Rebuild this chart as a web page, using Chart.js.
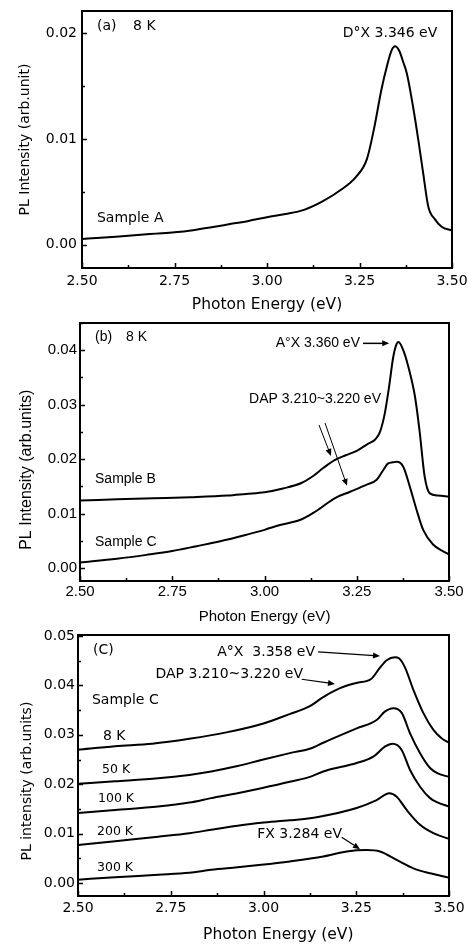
<!DOCTYPE html>
<html><head><meta charset="utf-8">
<script src="https://cdn.jsdelivr.net/npm/chart.js@4.4.1/dist/chart.umd.min.js"></script>
<style>
html,body{margin:0;padding:0;background:#fff;}
body{width:468px;height:948px;position:relative;overflow:hidden;}
canvas{position:absolute;left:0;}
</style></head><body>
<canvas id="ca" width="468" height="315" style="top:0px"></canvas>
<canvas id="cb" width="468" height="313" style="top:315px"></canvas>
<canvas id="cc" width="468" height="320" style="top:628px"></canvas>
<script>
// ---------- tick values ----------
const xTickValues = [2.50, 2.75, 3.00, 3.25, 3.50];
const yTicksA = [0.00, 0.01, 0.02];
const yTicksB = [0.00, 0.01, 0.02, 0.03, 0.04];
const yTicksC = [0.00, 0.01, 0.02, 0.03, 0.04, 0.05];

// ---------- panel (a): Sample A, 8 K ----------
const energyA = [2.50,2.55,2.60,2.65,2.70,2.75,2.80,2.85,2.90,2.95,3.00,3.05,3.10,3.15,3.20,3.24,3.27,3.29,3.31,3.325,3.337,3.346,3.358,3.367,3.378,3.395,3.409,3.422,3.436,3.454,3.472,3.50];
const intensityA = [0.00055,0.00065,0.00078,0.00092,0.00105,0.00118,0.00138,0.00165,0.00195,0.00225,0.00260,0.00290,0.00330,0.00410,0.00520,0.00640,0.00810,0.01110,0.01480,0.01700,0.01840,0.01877,0.01830,0.01740,0.01620,0.01300,0.00990,0.00680,0.00360,0.00240,0.00170,0.00135];

// ---------- panel (b): Samples B and C, 8 K ----------
const energyB = [2.50,2.60,2.70,2.80,2.90,2.95,3.00,3.05,3.10,3.13,3.16,3.19,3.22,3.25,3.28,3.30,3.313,3.326,3.337,3.349,3.356,3.363,3.376,3.39,3.408,3.42,3.434,3.448,3.47,3.50];
const intensityB = [0.0124,0.0126,0.0128,0.0130,0.0133,0.0136,0.0139,0.0146,0.0156,0.0168,0.0184,0.0198,0.0207,0.0215,0.0228,0.0236,0.0250,0.0284,0.0330,0.0388,0.0408,0.0415,0.0400,0.0369,0.0314,0.0253,0.0168,0.0137,0.0133,0.0131];
const energyBC = [2.50,2.60,2.68,2.75,2.816,2.88,2.951,3.00,3.042,3.096,3.132,3.15,3.19,3.232,3.277,3.304,3.322,3.335,3.348,3.358,3.376,3.394,3.412,3.43,3.457,3.48,3.50];
const intensityBC = [0.0010,0.0017,0.0024,0.0031,0.0040,0.0049,0.0061,0.0070,0.0079,0.0088,0.0101,0.0109,0.0128,0.0140,0.0153,0.0162,0.0180,0.0192,0.0194,0.0195,0.0186,0.0149,0.0107,0.0070,0.0043,0.0032,0.0025];

// ---------- panel (c): Sample C, temperature series ----------
const energyC8 = [2.50,2.60,2.70,2.80,2.90,3.00,3.07,3.125,3.16,3.205,3.25,3.29,3.314,3.332,3.354,3.365,3.381,3.404,3.431,3.458,3.48,3.50];
const intensityC8 = [0.0270,0.0277,0.0282,0.0292,0.0305,0.0323,0.0342,0.0358,0.0376,0.0394,0.0405,0.0413,0.0436,0.0451,0.0457,0.0455,0.0437,0.0391,0.0344,0.0310,0.0293,0.0284];
const energyC50 = [2.50,2.60,2.716,2.80,2.859,2.93,2.994,3.071,3.129,3.161,3.251,3.305,3.327,3.35,3.373,3.395,3.422,3.449,3.47,3.50];
const intensityC50 = [0.0201,0.0206,0.0212,0.0219,0.0226,0.0237,0.0249,0.0263,0.0273,0.0284,0.0313,0.0330,0.0347,0.0354,0.0344,0.0303,0.0263,0.0233,0.0222,0.0215];
const energyC100 = [2.50,2.60,2.716,2.80,2.859,2.93,2.994,3.071,3.129,3.161,3.251,3.296,3.327,3.348,3.372,3.395,3.422,3.449,3.47,3.50];
const intensityC100 = [0.0142,0.0148,0.0155,0.0163,0.0172,0.0182,0.0192,0.0205,0.0216,0.0226,0.0243,0.0256,0.0276,0.0282,0.0270,0.0229,0.0195,0.0172,0.0163,0.0155];
const energyC200 = [2.50,2.60,2.716,2.80,2.859,2.93,2.994,3.071,3.147,3.251,3.305,3.339,3.359,3.386,3.422,3.458,3.494,3.50];
const intensityC200 = [0.0077,0.0085,0.0094,0.0101,0.0108,0.0116,0.0122,0.0127,0.0134,0.0152,0.0168,0.0182,0.0175,0.0148,0.0118,0.0101,0.0091,0.0090];
const energyC300 = [2.50,2.60,2.716,2.80,2.859,2.93,2.994,3.071,3.161,3.224,3.278,3.314,3.359,3.404,3.449,3.50];
const intensityC300 = [0.0007,0.0012,0.0017,0.0021,0.0027,0.0032,0.0037,0.0044,0.0054,0.0064,0.0067,0.0064,0.0047,0.0030,0.0020,0.0011];

// ---------- fonts ----------
const DJ = 'DejaVu Sans', LS = 'Liberation Sans';

// ---------- annotations (in data units) ----------
const annotA = {
  texts: [
    {t:'(a)', x:2.5405, y:0.02066, f:'14px "DejaVu Sans"', a:'left'},
    {t:'8 K', x:2.638, y:0.02066, f:'14px "DejaVu Sans"', a:'left'},
    {t:'D\u00B0X 3.346 eV', x:3.3324, y:0.0200, f:'14px "DejaVu Sans"', a:'center'},
    {t:'Sample A', x:2.5405, y:0.00245, f:'14px "DejaVu Sans"', a:'left'}
  ],
  arrows: []
};
const annotB = {
  texts: [
    {t:'(b)', x:2.5407, y:0.04236, f:'14px "Liberation Sans"', a:'left'},
    {t:'8 K', x:2.6247, y:0.04236, f:'14px "Liberation Sans"', a:'left'},
    {t:'A\u00B0X 3.360 eV', x:3.2588, y:0.04126, f:'14px "Liberation Sans"', a:'right'},
    {t:'DAP 3.210~3.220 eV', x:3.1369, y:0.0310, f:'14px "Liberation Sans"', a:'center'},
    {t:'Sample B', x:2.5407, y:0.01636, f:'14px "Liberation Sans"', a:'left'},
    {t:'Sample C', x:2.5407, y:0.00482, f:'14px "Liberation Sans"', a:'left'}
  ],
  arrows: [
    {x1:3.267, y1:0.04126, x2:3.338, y2:0.04126, w:1.5},
    {x1:3.1477, y1:0.02625, x2:3.1802, y2:0.02058, w:1},
    {x1:3.164, y1:0.02662, x2:3.2236, y2:0.01508, w:1}
  ]
};
const annotC = {
  texts: [
    {t:'(C)', x:2.5404, y:0.04718, f:'14px "DejaVu Sans"', a:'left'},
    {t:'A\u00B0X  3.358 eV', x:3.1388, y:0.04677, f:'14px "DejaVu Sans"', a:'right'},
    {t:'DAP 3.210~3.220 eV', x:3.1065, y:0.04232, f:'14px "DejaVu Sans"', a:'right'},
    {t:'Sample C', x:2.5377, y:0.03707, f:'14px "DejaVu Sans"', a:'left'},
    {t:'8 K', x:2.5674, y:0.0296, f:'14px "DejaVu Sans"', a:'left'},
    {t:'50 K', x:2.5647, y:0.02285, f:'12.5px "DejaVu Sans"', a:'left'},
    {t:'100 K', x:2.5539, y:0.01699, f:'12.5px "DejaVu Sans"', a:'left'},
    {t:'200 K', x:2.5512, y:0.01037, f:'12.5px "DejaVu Sans"', a:'left'},
    {t:'300 K', x:2.5512, y:0.00310, f:'12.5px "DejaVu Sans"', a:'left'},
    {t:'FX 3.284 eV', x:3.2116, y:0.00997, f:'14px "DejaVu Sans"', a:'right'}
  ],
  arrows: [
    {x1:3.1469, y1:0.04677, x2:3.314, y2:0.04596, w:1.2},
    {x1:3.103, y1:0.04125, x2:3.1927, y2:0.04029, w:1.2},
    {x1:3.2108, y1:0.0093, x2:3.2601, y2:0.00688, w:1.2}
  ]
};

function decor(annot) {
  return {
    id: 'decor',
    afterDatasetsDraw(chart) {
      const {ctx, chartArea: a, scales: {x, y}} = chart;
      ctx.save();
      ctx.strokeStyle = '#000'; ctx.fillStyle = '#000';
      // inward major / minor ticks
      ctx.lineWidth = 1.5;
      ctx.beginPath();
      const xs = x.ticks.map(t => t.value);
      const xStep = xs[1] - xs[0];
      for (let i = 0; i <= Math.round((x.max - x.min) / (xStep / 2)); i++) {
        const v = x.min + i * xStep / 2;
        const px = Math.round(x.getPixelForValue(v)) + 0.5;
        const len = (i % 2 === 0) ? 5 : 3;
        ctx.moveTo(px, a.bottom); ctx.lineTo(px, a.bottom - len);
      }
      const ys = y.ticks.map(t => t.value);
      const yStep = ys[1] - ys[0];
      let start = ys[0];
      while (start - yStep / 2 >= y.min) start -= yStep / 2;
      let k = Math.round((ys[0] - start) / (yStep / 2));
      for (let v = start, j = 0; v <= y.max + 1e-9; j++, v = start + j * yStep / 2) {
        const py = Math.round(y.getPixelForValue(v)) + 0.5;
        const major = ((j - k) % 2 === 0);
        const len = major ? 5 : 3;
        ctx.moveTo(a.left, py); ctx.lineTo(a.left + len, py);
      }
      ctx.stroke();
      // frame
      ctx.lineWidth = 2;
      ctx.strokeRect(a.left, a.top, a.right - a.left, a.bottom - a.top);
      // texts
      ctx.textBaseline = 'middle';
      annot.texts.forEach(t => {
        ctx.font = t.f; ctx.textAlign = t.a;
        ctx.fillText(t.t, x.getPixelForValue(t.x), y.getPixelForValue(t.y));
      });
      // arrows
      annot.arrows.forEach(r => {
        const x1 = x.getPixelForValue(r.x1), y1 = y.getPixelForValue(r.y1);
        const x2 = x.getPixelForValue(r.x2), y2 = y.getPixelForValue(r.y2);
        const ang = Math.atan2(y2 - y1, x2 - x1);
        const hl = 7, hw = 3;
        ctx.lineWidth = r.w;
        ctx.beginPath();
        ctx.moveTo(x1, y1);
        ctx.lineTo(x2 - Math.cos(ang) * hl * 0.8, y2 - Math.sin(ang) * hl * 0.8);
        ctx.stroke();
        ctx.beginPath();
        ctx.moveTo(x2, y2);
        ctx.lineTo(x2 - Math.cos(ang) * hl - Math.sin(ang) * hw, y2 - Math.sin(ang) * hl + Math.cos(ang) * hw);
        ctx.lineTo(x2 - Math.cos(ang) * hl + Math.sin(ang) * hw, y2 - Math.sin(ang) * hl - Math.cos(ang) * hw);
        ctx.closePath();
        ctx.fill();
      });
      ctx.restore();
    }
  };
}

function fmt(v) { return (Math.abs(v) < 1e-9 ? 0 : v).toFixed(2); }

function makeChart(id, c) {
  const datasets = c.series.map(s => ({
    data: s.e.map((e, i) => ({x: e, y: s.v[i]})),
    borderColor: '#000', borderWidth: 2, pointRadius: 0, fill: false,
    cubicInterpolationMode: 'monotone'
  }));
  return new Chart(document.getElementById(id), {
    type: 'line',
    data: {datasets},
    options: {
      responsive: false, animation: false, events: [],
      layout: {padding: {left: 0, right: c.padRight, top: c.padTop, bottom: 0}},
      plugins: {legend: {display: false}, tooltip: {enabled: false}},
      scales: {
        x: {
          type: 'linear', min: 2.5, max: 3.5,
          afterBuildTicks: s => { s.ticks = xTickValues.map(v => ({value: v})); },
          ticks: {color: '#000', font: {family: c.fam, size: c.tickSize, lineHeight: 1}, padding: 0,
                  maxRotation: 0, autoSkip: false, callback: v => fmt(v)},
          grid: {display: false, drawTicks: true, tickLength: c.xTickGap},
          border: {display: false},
          title: {display: true, text: c.xTitle, color: '#000',
                  font: {family: c.fam, size: c.xTitleSize, lineHeight: 1.2},
                  padding: {top: 0, bottom: c.xTitlePadB}},
          afterFit: s => { s.height = c.xAxisH; }
        },
        y: {
          type: 'linear', min: c.yMin, max: c.yMax,
          afterBuildTicks: s => { s.ticks = c.yTicks.map(v => ({value: v})); },
          ticks: {color: '#000', font: {family: c.fam, size: c.tickSize, lineHeight: 1}, padding: 0,
                  autoSkip: false, callback: v => fmt(v)},
          grid: {display: false, drawTicks: true, tickLength: c.yTickGap},
          border: {display: false},
          title: {display: true, text: c.yTitle, color: '#000',
                  font: {family: c.fam, size: c.yTitleSize, lineHeight: 1.2},
                  padding: {top: c.yTitlePadT, bottom: 0}},
          afterFit: s => { s.width = c.yAxisW; }
        }
      }
    },
    plugins: [decor(c.annot)]
  });
}

makeChart('ca', {
  series: [{e: energyA, v: intensityA}],
  fam: DJ, tickSize: 14, xTitleSize: 15.5, yTitleSize: 14,
  xTitle: 'Photon Energy (eV)', yTitle: 'PL Intensity (arb.unit)',
  yMin: -0.0022, yMax: 0.0221, yTicks: yTicksA,
  padRight: 16, padTop: 11, yAxisW: 82, xAxisH: 47,
  xTickGap: 6, yTickGap: 5, xTitlePadB: 0.7, yTitlePadT: 16.6,
  annot: annotA
});
makeChart('cb', {
  series: [{e: energyB, v: intensityB}, {e: energyBC, v: intensityBC}],
  fam: LS, tickSize: 15, xTitleSize: 15, yTitleSize: 16,
  xTitle: 'Photon Energy (eV)', yTitle: 'PL Intensity (arb.units)        ',
  yMin: -0.0024, yMax: 0.045, yTicks: yTicksB,
  padRight: 19, padTop: 8, yAxisW: 80, xAxisH: 47,
  xTickGap: 3.5, yTickGap: 3, xTitlePadB: 2, yTitlePadT: 17.4,
  annot: annotB
});
makeChart('cc', {
  series: [{e: energyC8, v: intensityC8}, {e: energyC50, v: intensityC50}, {e: energyC100, v: intensityC100},
           {e: energyC200, v: intensityC200}, {e: energyC300, v: intensityC300}],
  fam: DJ, tickSize: 14, xTitleSize: 15.5, yTitleSize: 14,
  xTitle: '      Photon Energy (eV)', yTitle: 'PL intensity (arb.units)       ',
  yMin: -0.0026, yMax: 0.0502, yTicks: yTicksC,
  padRight: 19, padTop: 7, yAxisW: 78, xAxisH: 52,
  xTickGap: 5, yTickGap: 3, xTitlePadB: 3.7, yTitlePadT: 18.6,
  annot: annotC
});
</script></body></html>
